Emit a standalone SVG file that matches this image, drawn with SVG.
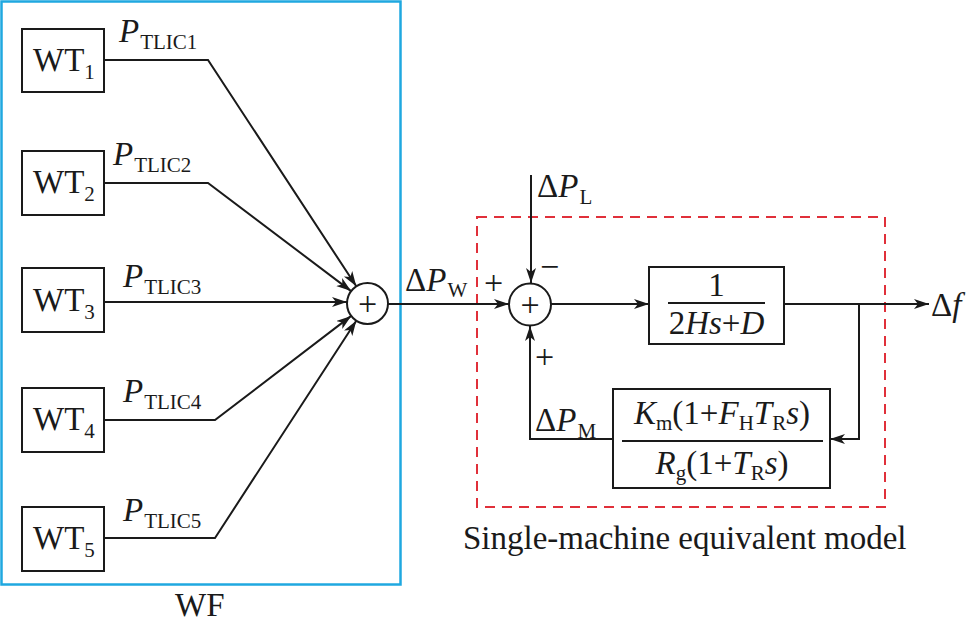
<svg xmlns="http://www.w3.org/2000/svg" width="969" height="628" viewBox="0 0 969 628">
<defs>
<marker id="arr" markerUnits="userSpaceOnUse" markerWidth="16" markerHeight="12" refX="15" refY="5" orient="auto">
<path d="M0,0 L15,5 L0,10 L4,5 z" fill="#1a1a1a"/>
</marker>
</defs>
<style>
text{font-family:"Liberation Serif","Times New Roman",serif;fill:#1a1a1a}
.t{font-size:33px}
.s{font-size:21px}
.i{font-style:italic}
.p{font-size:34px}
.box{fill:#fff;stroke:#1a1a1a;stroke-width:2}
.ln{fill:none;stroke:#1a1a1a;stroke-width:2}
.ar{fill:none;stroke:#1a1a1a;stroke-width:2;marker-end:url(#arr)}
</style>
<rect id="wf" x="1.5" y="1.5" width="399" height="583" fill="none" stroke="#1fa8e0" stroke-width="2.5"/>
<rect id="sme" x="477" y="217" width="408" height="290" fill="none" stroke="#e0303a" stroke-width="2" stroke-dasharray="10,7"/>
<g id="connectors">
<path class="ar" d="M104,60 H208 L356.3,286.3"/>
<path class="ar" d="M104,183 H208 L351.1,291.1"/>
<path class="ar" d="M104,302 H347"/>
<path class="ar" d="M104,420 H215 L351.2,315.9"/>
<path class="ar" d="M104,538 H215 L356.3,320.7"/>
<path class="ar" d="M388,304 H509"/>
<path class="ar" d="M531,175 V283"/>
<path class="ar" d="M551,304 H649"/>
<path class="ar" d="M784,304 H929"/>
<path class="ar" d="M859,304 V439 H830"/>
<path class="ar" d="M613,439 H530 V326"/>
</g>
<g id="wt1"><rect class="box" x="22" y="29" width="82" height="63"/><text class="t" x="33" y="71">WT<tspan class="s" dy="8">1</tspan></text></g>
<g id="wt2"><rect class="box" x="22" y="151" width="82" height="64"/><text class="t" x="33" y="193">WT<tspan class="s" dy="8">2</tspan></text></g>
<g id="wt3"><rect class="box" x="22" y="268" width="82" height="64"/><text class="t" x="33" y="311">WT<tspan class="s" dy="8">3</tspan></text></g>
<g id="wt4"><rect class="box" x="22" y="388" width="82" height="64"/><text class="t" x="33" y="430">WT<tspan class="s" dy="8">4</tspan></text></g>
<g id="wt5"><rect class="box" x="22" y="507" width="82" height="64"/><text class="t" x="33" y="549">WT<tspan class="s" dy="8">5</tspan></text></g>
<g id="labels">
<text class="t" x="119" y="42"><tspan class="i">P</tspan><tspan class="s" dx="1" dy="7">TLIC1</tspan></text>
<text class="t" x="113" y="165"><tspan class="i">P</tspan><tspan class="s" dx="1" dy="7">TLIC2</tspan></text>
<text class="t" x="123" y="287"><tspan class="i">P</tspan><tspan class="s" dx="1" dy="7">TLIC3</tspan></text>
<text class="t" x="123" y="402"><tspan class="i">P</tspan><tspan class="s" dx="1" dy="7">TLIC4</tspan></text>
<text class="t" x="123" y="521"><tspan class="i">P</tspan><tspan class="s" dx="1" dy="7">TLIC5</tspan></text>
<text class="t" x="405" y="291">Δ<tspan class="i">P</tspan><tspan class="s" dx="1" dy="6">W</tspan></text>
<text class="t" x="537" y="197">Δ<tspan class="i">P</tspan><tspan class="s" dx="1" dy="7">L</tspan></text>
<text class="t" x="535" y="431">Δ<tspan class="i">P</tspan><tspan class="s" dx="1" dy="7">M</tspan></text>
<text class="t" x="931" y="316">Δ<tspan class="i">f</tspan></text>
<text class="p" x="484" y="294">+</text>
<text class="p" x="540" y="278">−</text>
<text class="p" x="535" y="368">+</text>
<text class="t" x="175" y="616">WF</text>
<text class="t" x="463" y="549">Single-machine equivalent model</text>
</g>
<g id="sum1"><circle class="box" cx="367.5" cy="303.5" r="20.5"/><text class="p" x="367.5" y="315" text-anchor="middle">+</text></g>
<g id="sum2"><circle class="box" cx="530" cy="304.5" r="21"/><text class="p" x="530" y="316" text-anchor="middle">+</text></g>
<g id="g1"><rect class="box" x="649" y="267" width="135" height="77"/>
<line class="ln" x1="668" y1="303" x2="765" y2="303"/>
<text class="t" x="716.5" y="296" text-anchor="middle">1</text>
<text class="t" x="716.5" y="334" text-anchor="middle">2<tspan class="i">Hs</tspan>+<tspan class="i">D</tspan></text>
</g>
<g id="g2"><rect class="box" x="613" y="389" width="217" height="99"/>
<line class="ln" x1="622" y1="441" x2="823" y2="441"/>
<text class="t" x="722" y="424" text-anchor="middle"><tspan class="i">K</tspan><tspan class="s" dy="6">m</tspan><tspan dy="-6">(1+</tspan><tspan class="i">F</tspan><tspan class="s" dy="6">H</tspan><tspan class="i" dy="-6">T</tspan><tspan class="s" dy="6">R</tspan><tspan class="i" dy="-6">s</tspan>)</text>
<text class="t" x="722" y="474" text-anchor="middle"><tspan class="i">R</tspan><tspan class="s" dy="6">g</tspan><tspan dy="-6">(1+</tspan><tspan class="i">T</tspan><tspan class="s" dy="6">R</tspan><tspan class="i" dy="-6">s</tspan>)</text>
</g>
</svg>
